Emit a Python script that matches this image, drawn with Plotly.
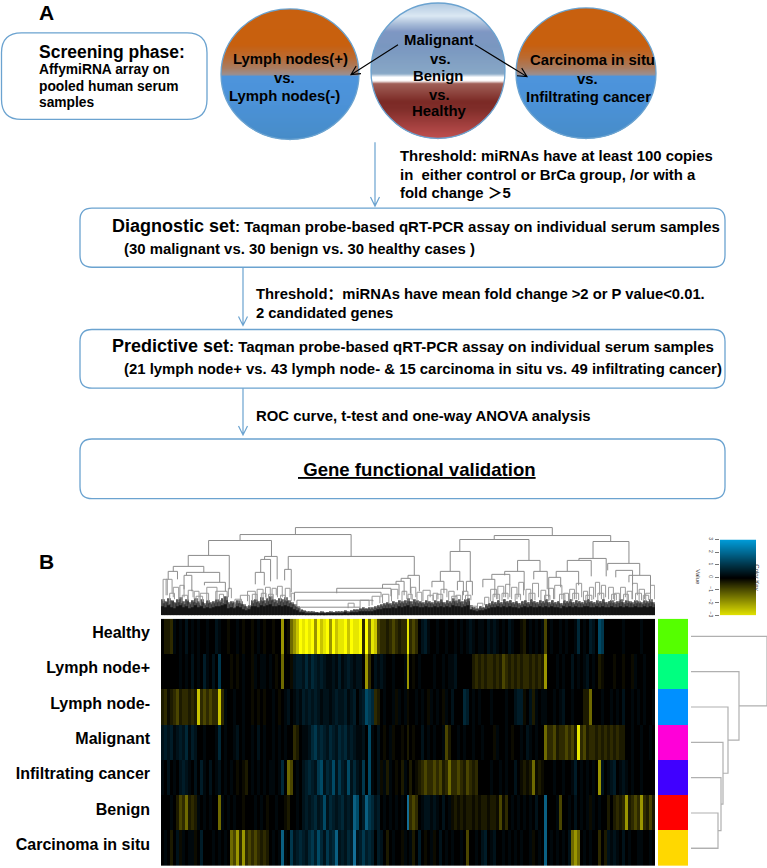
import plotly.graph_objects as go

W, H = 767, 868
FONT = "Liberation Sans, Noto Sans CJK SC, sans-serif"

ROW_LABELS = ["Healthy", "Lymph node+", "Lymph node-", "Malignant", "Infiltrating cancer", "Benign", "Carcinoma in situ"]
ROW_COLORS = ["#55ff00", "#00ff80", "#0090ff", "#ff00d8", "#4000ff", "#ff0000", "#ffd800"]
RIGHT_MERGES = [27, 30, 32, 37, 48, 76]

# digit = yellow level, letter = blue level, one character per heat map column
HEAT_ROWS = [
    ["0223a0a0b0", "a0a00a00ba", "00100a0100", "10a0100100", "6015679898", "9697896978", "8979889395", "8743323432",
     "3383430bca", "00a00a00a0", "a0aba0aa0b", "aba0a0ba00", "120a0a0a40", "a00a0a00ad", "0a0cb0fe00", "0000a00000", "a0000"],
    ["000000a0a0", "b0a0ca0b0e", "0001010a00", "1a0aa0a010", "5001bccbdb", "dcbcbaabac", "abcbabb063", "0baba00a00",
     "0a6010a000", "0a00a0aab0", "0000232323", "3232432323", "2332323260", "00a0a00b0a", "0ab0a02100", "01001001a0", "0a000"],
    ["2312342332", "3273434337", "3a00a00a00", "1010100a01", "0ab0abacbc", "bcbabbabcb", "bcabc0bcfe", "d320a00a1a",
     "0a100a0a01", "a0a01a0b00", "0dc0a0a000", "a0000a00bc", "c10b2a0aa0", "0a0ab00a00", "0225000a00", "a0a0b00a0a", "0a00a"],
    ["bcbcabcbda", "cb00a000ad", "0a00ab0a00", "a0b0a00a0a", "0a00320aab", "decdcbdcbd", "cdbcbaab0f", "a0b010a100",
     "1020100b0a", "0a00a4200a", "0a00a00a00", "01a00a0100", "a0ba0a0053", "3423343428", "3423323232", "3232200a00", "a00a0"],
    ["a0b0a0bcba", "0b0ca0b0ab", "0a0a010120", "a0a0a0aa0a", "d0540a0bcd", "cbefbdcfbe", "cbfbdbae0f", "a0b1a2a010",
     "2a02012343", "3434235334", "3243230000", "a00a0a00b0", "1212512100", "0a00a00ac0", "a0a0a06b0a", "bc0aba0a00", "a0000"],
    ["000a024352", "32a0a0a005", "a0a0a00100", "0a0a0100a0", "01200a0bcb", "cdbcfbdcbc", "dbcbgfacge", "dbc0a0a0a0",
     "a0h3430abb", "aba0b0a121", "2122121221", "2214130a0a", "0a0a0b00g0", "00a400a0b0", "a0a1a0a002", "0232362343", "63242"],
    ["0a020b1a0a", "a10c000a0a", "0a05463634", "3432320a0a", "ga0ebcdcbd", "ecfdbecdgb", "cbdchbcecd", "c0cb020a00",
     "1a0a20c010", "a10b0a0a00", "a0400a0bc0", "ab00a0a0a0", "a00a10a0g0", "a0a0a0b565", "0a0a00302b", "aba0b0a00a", "a00a0"],
]
YELLOW_RAMP = ["#000000", "#0c0b00", "#1c1a00", "#2e2a00", "#4a4500", "#6e6900", "#9a9500", "#c8c300", "#e6e600", "#ffff00"]
BLUE_RAMP = ["#000000", "#00080c", "#00121a", "#001c28", "#002838", "#00384e", "#004a66", "#0a5f82", "#146e96", "#1982af"]

FOREST_GREY = [16,14,17,15,13,16,18,14,16,13, 15,17,14,16,12,15,13,14,16,15, 17,19,13,14,13,15,14,11,9,10,
               15,16,14,18,15,17,19,16,15,17, 16,18,15,13,11,9,6,5,4,4, 4,3,3,4,3,3,4,3,4,4,
               4,5,4,5,6,6,7,8,7,8, 8,9,10,11,12,13,12,14,13,15, 14,15,17,14,16,15,14,13,15,14,
               13,15,14,16,13,15,14,17,15,16, 14,16,17,10,8,7,9,8,11,12, 14,13,15,13,16,14,15,13,14,12,
               14,15,13,16,14,13,15,14,16,13, 15,13,14,12,15,14,16,13,15,14, 13,15,16,14,13,15,14,16,13,14,
               15,13,14,16,13,15,14,13,15,14, 13,15,14,16,13]
FOREST_MID = [12,13,11,14,12,13,12,11,14,11, 13,12,12,13,10,12,11,12,13,13, 12,15,11,12,11,12,11,9,7,8,
              12,13,12,14,12,14,15,13,12,14, 13,14,12,11,9,7,5,4,3,3, 3,3,2,3,2,3,3,3,3,3,
              3,4,3,4,5,5,6,6,6,6, 6,7,8,9,10,11,10,11,11,12, 12,12,14,11,13,12,12,11,12,12,
              11,12,12,13,11,12,12,14,12,13, 11,13,14,8,6,6,7,7,9,10, 11,11,12,11,13,12,12,11,12,10,
              11,12,11,13,12,11,12,12,13,11, 12,11,12,10,12,12,13,11,12,12, 11,12,13,12,11,12,12,13,11,12,
              12,11,12,13,11,12,12,11,12,12, 11,12,12,13,11]
FOREST_DARK = [9,8,10,8,7,9,10,8,9,7, 8,10,8,9,7,8,7,8,9,9, 10,11,7,8,7,9,8,6,5,6,
               9,9,8,10,9,10,11,9,9,10, 9,10,9,8,6,5,3,3,2,2, 2,2,2,2,2,2,2,2,2,2,
               2,3,2,3,3,3,4,4,4,4, 4,5,6,6,7,7,7,8,7,9, 8,9,10,8,9,9,8,8,9,8,
               8,9,8,9,8,9,8,10,9,9, 8,9,10,6,5,4,5,5,6,7, 8,8,9,8,9,8,9,8,8,7,
               8,9,8,9,8,8,9,8,9,8, 9,8,8,7,9,8,9,8,9,8, 8,9,9,8,8,9,8,9,8,8,
               9,8,8,9,8,9,8,8,9,8, 8,9,8,9,8]

# left column, right column, height, left child height, right child height
TREE_LINKS = [
    (44.4,130.2,88,81,80), (25.9,63,81,75,59), (15.4,36.4,75,60,59), (8.6,22.3,60,49,26), (3.6,13.8,49,44,43),
    (1.9,5,44,36,36), (8,19.1,43,40,33), (7.2,9.8,40,26,24), (14,21,33,30,24), (34.1,38.3,59,56,36),
    (32.8,36.1,56,43,34), (31,34,43,31,30), (42,84.1,59,46,40), (40.8,43,46,35,23), (82,85.8,40,37,24),
    (79.7,82.8,37,34,22), (78,80.7,34,31,20), (73.5,79,31,27,20), (58.2,76.3,27,22,19), (44.1,73,23,15,18),
    (44.9,70.3,15,8,14), (46,66,8,4,7), (110.8,149.7,80,76,74), (99.3,122.4,76,64,55), (96.1,102.8,64,44,34),
    (92.8,99.3,44,34,34), (90,94,34,28,22), (98.5,100.5,34,25,20), (101.5,103.5,34,24,20), (118.6,126.1,55,44,44),
    (114.3,120.8,44,40,25), (124,128.5,44,36,26), (110,116,41,36,30), (107,111,36,28,18), (143.8,155.8,74,57,52),
    (139.1,148.2,57,55,39), (135.2,143.2,55,44,39), (131.5,139,44,38,30), (129,133,38,18,28), (148.7,159.4,52,45,40),
    (151.4,157,45,38,30), (155.8,163,40,33,22),
]
TREE_SMALL = [
    (0.2,1.6,36,14,20), (1.2,3.2,36,20,22), (3.6,5.4,28,18,16), (5.8,7.2,30,16,18), (8.6,10.2,25,16,18), (10.6,12.2,24,16,14),
    (12.6,15.4,22,10,14), (14.8,18.2,28,14,16), (17.8,21.6,24,15,18), (22,23,27,18,17), (24.2,26.4,16,8,12), (26,29,20,12,10),
    (28.4,31,24,14,16), (31.6,33.6,26,16,18), (34.4,36,28,18,18), (36.6,38,27,16,20), (38.4,40,29,18,18), (41,42.6,27,16,18),
    (43,44,22,14,14), (62,64,12,7,8), (66,69,15,8,9), (70,72.6,19,10,12), (73.5,75.6,21,12,12), (76.5,78.6,26,14,16),
    (80,81.6,24,14,16), (83,84.6,28,16,18), (85,86.6,23,14,14), (87,89.4,25,14,18), (90.4,92,22,14,16), (93,95,26,16,18),
    (95.6,97.4,24,15,16), (98,99.6,20,14,14), (100.2,102,24,15,16), (103,105,9,6,7), (105.2,107,12,7,8), (107.6,109,18,10,12),
    (109.6,111.6,26,14,16), (112,114,29,16,18), (114.6,116,31,18,18), (116.6,118.4,28,16,16), (119,120.6,33,18,20), (121.4,123,26,15,16),
    (123.6,125.6,32,16,18), (126.4,128,25,15,15), (129,130.6,27,14,16), (131,133.4,30,16,16), (134,135.6,22,14,14), (136,137.6,26,14,16),
    (138.2,140,32,16,18), (140.6,142,24,14,16), (142.6,144,28,16,16), (144.6,146,33,18,20), (146.6,148,30,16,18), (149,150.6,28,16,16),
    (151,152.6,22,14,14), (153,154.6,28,16,18), (155.2,156.8,24,14,16), (157,158.6,32,16,20), (159.2,161,26,14,16), (161.4,163,22,14,14), (163,164.4,30,14,16),
    (2.4,4,22,14,16), (6.6,8.4,20,14,15), (11.2,13.4,19,13,14), (19,20.4,21,14,15), (30,31.6,21,14,15), (33,34.6,22,15,16), (35.4,37,21,15,16),
    (39.4,41,20,14,15), (82,83.4,21,14,15), (88.6,90.4,20,14,15), (91.6,93.6,21,14,15), (96.6,98.4,19,14,15), (101.2,103,20,15,15),
    (110.4,112.6,21,14,15), (113.4,115.4,22,14,16), (117.8,119.6,21,14,15), (122.4,124.4,22,14,15), (127.6,129.4,20,14,15), (132.6,134.4,21,14,15),
    (137,139,22,14,15), (141.4,143.4,20,14,15), (145.4,147.4,22,14,16), (150,151.6,21,14,15), (154,155.6,21,14,15), (158,160,22,14,15), (160.6,162.4,20,14,15),
]

KEY_VALUES = [-3, -2, -1, 0, 1, 2, 3]

OUTER_BOXES = [(1.5, 31, 207, 118, 20), (80, 207, 725, 266.5, 12), (80, 329, 725, 388, 12), (80, 439, 725, 499, 12)]
ORANGE_BLUE = [(6, "#c8600f"), (43, "#c8600f"), (55, "#bb6a30"), (66, "#aa7c60"), (73, "#9c8f90"), (74.5, "#4e94dc"), (100, "#4c92d8"), (138, "#478cc8")]
ELLIPSES = [
    (290, 72.5, 69, 65.5, ORANGE_BLUE),
    (438, 69, 67, 68, [(1, "#b0c8e0"), (14, "#dbe8f3"), (22, "#a8bcd8"), (30, "#7f97c3"), (45, "#7a97c0"), (72, "#88a8c6"), (75.5, "#ffffff"), (79, "#ffffff"),
                       (82, "#a06058"), (100, "#7c2a26"), (108, "#802e2a"), (137, "#c05050")]),
    (586, 71.5, 70, 65.5, ORANGE_BLUE),
]
ARROWS = [
    (398, 43, 351, 73, "#000000", 1.1), (475, 43, 527, 75, "#000000", 1.1),
    (375, 141, 375, 205, "#6ba3d0", 1.2), (243, 267, 243, 325, "#6ba3d0", 1.2), (243, 388, 243, 435, "#6ba3d0", 1.2),
]
TEXTS = [
    ("A", 39, 11, 21, "left"), ("B", 39, 562, 21, "left"),
    ("Screening phase:", 39, 50, 17.5, "left"), ("AffymiRNA array on", 39, 68, 13.8, "left"),
    ("pooled human serum", 39, 85, 13.8, "left"), ("samples", 39, 101, 13.8, "left"),
    ("Lymph nodes(+)", 290, 57, 14.9, "center"), ("vs.", 284, 76, 14.9, "center"), ("Lymph nodes(-)", 284.5, 94, 14.9, "center"),
    ("Malignant", 439, 38, 14.9, "center"), ("vs.", 440, 57, 14.9, "center"), ("Benign", 438, 74, 14.9, "center"),
    ("vs.", 439, 93, 14.9, "center"), ("Healthy", 439, 110, 14.9, "center"),
    ("Carcinoma in situ", 592, 58, 14.9, "center"), ("vs.", 587.5, 77, 14.9, "center"), ("Infiltrating cancer", 588, 95, 14.9, "center"),
    ("Threshold: miRNAs have at least 100 copies", 400, 155, 14.9, "left"),
    ("in  either control or BrCa group, /or with a", 400, 174, 14.9, "left"),
    ("fold change \uff1e5", 400, 192, 14.9, "left"),
    ("<span style='font-size:18px'>Diagnostic set</span>: Taqman probe-based qRT-PCR assay on individual serum samples", 112, 225, 15, "left"),
    ("(30 malignant vs. 30 benign vs. 30 healthy cases )", 124, 248, 14.9, "left"),
    ("Threshold\uff1amiRNAs have mean fold change &gt;2 or P value&lt;0.01.", 256, 293, 14.8, "left"),
    ("2 candidated genes", 256, 312, 14.8, "left"),
    ("<span style='font-size:18px'>Predictive set</span>: Taqman probe-based qRT-PCR assay on individual serum samples", 112, 346, 15, "left"),
    ("(21 lymph node+ vs. 43 lymph node- &amp; 15 carcinoma in situ vs. 49 infiltrating cancer)", 124, 369, 14.9, "left"),
    ("ROC curve, t-test and one-way ANOVA analysis", 256, 416, 14.9, "left"),
    ("<u>\u00a0Gene functional validation</u>", 298, 470, 18.6, "left"),
]


def X(p):
    return p / W


def Y(p):
    return 1 - p / H


def level(ch):
    return -int(ch) if ch.isdigit() else ord(ch) - ord("a") + 1


def mix(c1, c2, t):
    a = [int(c1[i:i + 2], 16) for i in (1, 3, 5)]
    b = [int(c2[i:i + 2], 16) for i in (1, 3, 5)]
    return "rgb(%d,%d,%d)" % tuple(round(p + (q - p) * t) for p, q in zip(a, b))


def band_color(stops, y):
    if y <= stops[0][0]:
        return stops[0][1]
    for (y1, c1), (y2, c2) in zip(stops, stops[1:]):
        if y <= y2:
            return mix(c1, c2, (y - y1) / (y2 - y1))
    return stops[-1][1]


heat_z = []
for i, groups in enumerate(HEAT_ROWS):
    row = "".join(groups)
    assert len(row) == 165, (i, len(row), [g for g in groups[:-1] if len(g) != 10])
    heat_z.append([level(c) for c in row])
columns = list(range(165))
half_columns = [c + 0.5 for c in columns]
assert len(FOREST_GREY) == len(FOREST_MID) == len(FOREST_DARK) == 165, (len(FOREST_GREY), len(FOREST_MID), len(FOREST_DARK))
heat_scale = [[(9 - i) / 18, YELLOW_RAMP[i]] for i in range(9, 0, -1)] + [[(9 + i) / 18, BLUE_RAMP[i]] for i in range(0, 10)]

shapes = []
for cx, cy, rx, ry, stops in ELLIPSES:
    y = cy - ry
    while y < cy + ry:
        mid = y + 0.5
        half = rx * max(0, 1 - ((mid - cy) / ry) ** 2) ** 0.5
        half2 = rx * max(0, 1 - ((mid + 1 - cy) / ry) ** 2) ** 0.5
        path = (f"M {X(cx - half)} {Y(y)} L {X(cx + half)} {Y(y)} L {X(cx + half2)} {Y(y + 2)} L {X(cx - half2)} {Y(y + 2)} Z")
        shapes.append(dict(type="path", xref="paper", yref="paper", path=path,
                           fillcolor=band_color(stops, mid), line=dict(width=0), layer="below"))
        y += 1
    shapes.append(dict(type="circle", xref="paper", yref="paper", x0=X(cx - rx), x1=X(cx + rx), y0=Y(cy - ry), y1=Y(cy + ry),
                       line=dict(color="#6ba3d0", width=1.3)))

for x0, y0, x1, y1, r in OUTER_BOXES:
    path = (f"M {X(x0 + r)} {Y(y0)} L {X(x1 - r)} {Y(y0)} Q {X(x1)} {Y(y0)} {X(x1)} {Y(y0 + r)} "
            f"L {X(x1)} {Y(y1 - r)} Q {X(x1)} {Y(y1)} {X(x1 - r)} {Y(y1)} "
            f"L {X(x0 + r)} {Y(y1)} Q {X(x0)} {Y(y1)} {X(x0)} {Y(y1 - r)} "
            f"L {X(x0)} {Y(y0 + r)} Q {X(x0)} {Y(y0)} {X(x0 + r)} {Y(y0)} Z")
    shapes.append(dict(type="path", xref="paper", yref="paper", path=path, line=dict(color="#6ba3d0", width=1.3)))

for x0, y0, x1, y1, color, lw in ARROWS:
    dx, dy = x1 - x0, y1 - y0
    n = (dx * dx + dy * dy) ** 0.5
    ux, uy = dx / n, dy / n
    size, wing = 9, 4.5
    ax, ay = x1 - ux * size - uy * wing, y1 - uy * size + ux * wing
    bx, by = x1 - ux * size + uy * wing, y1 - uy * size - ux * wing
    path = (f"M {X(x0)} {Y(y0)} L {X(x1)} {Y(y1)} M {X(ax)} {Y(ay)} L {X(x1)} {Y(y1)} L {X(bx)} {Y(by)}")
    shapes.append(dict(type="path", xref="paper", yref="paper", path=path, line=dict(color=color, width=lw)))

annotations = []
for text, x, y, size, anchor in TEXTS:
    annotations.append(dict(text=f"<b>{text}</b>", x=X(x), y=Y(y), xref="paper", yref="paper", xanchor=anchor, yanchor="middle",
                            align=anchor, showarrow=False, borderpad=0, borderwidth=0,
                            font=dict(family=FONT, size=size, color="#000000")))
annotations.append(dict(text="Value", x=X(703), y=Y(578), xref="paper", yref="paper", textangle=90, showarrow=False,
                        font=dict(family=FONT, size=6, color="#333333")))
annotations.append(dict(text="Color Key", x=X(762), y=Y(578), xref="paper", yref="paper", textangle=90, showarrow=False,
                        font=dict(family=FONT, size=6, color="#333333")))

fig = go.Figure()
fig.add_trace(go.Bar(x=half_columns, y=FOREST_GREY, width=0.25, marker=dict(color="#777777", line=dict(width=0)), xaxis="x2", yaxis="y2"))
fig.add_trace(go.Bar(x=columns, y=FOREST_GREY, width=0.4, marker=dict(color="#555555", line=dict(width=0)), xaxis="x2", yaxis="y2"))

for links, color in ((TREE_SMALL, "#999999"), (TREE_LINKS, "#8c8c8c")):
    xs, ys = [], []
    for cl, cr, h, hl, hr in links:
        xs += [cl, cl, cr, cr, None]
        ys += [hl, h, h, hr, None]
    fig.add_trace(go.Scatter(x=xs, y=ys, mode="lines", line=dict(color=color, width=1), xaxis="x2", yaxis="y2"))

fig.add_trace(go.Bar(x=half_columns, y=FOREST_MID, width=0.45, marker=dict(color="#3a3a3a", line=dict(width=0)), xaxis="x2", yaxis="y2"))
fig.add_trace(go.Bar(x=columns, y=FOREST_MID, width=0.3, marker=dict(color="#4a4a4a", line=dict(width=0)), xaxis="x2", yaxis="y2"))
fig.add_trace(go.Bar(x=columns, y=FOREST_DARK, width=1.0, marker=dict(color="#141414", line=dict(width=0)), xaxis="x2", yaxis="y2"))

fig.add_trace(go.Heatmap(z=heat_z, x=columns, y=list(range(7)), zmin=-9, zmax=9, showscale=False,
                         colorscale=heat_scale, xaxis="x3", yaxis="y3"))

fig.add_trace(go.Heatmap(z=[[i] for i in range(7)], y=list(range(7)), zmin=0, zmax=6, showscale=False,
                         colorscale=[[i / 6, c] for i, c in enumerate(ROW_COLORS)], xaxis="x4", yaxis="y4"))

pos = 6.0
xs, ys = [0, RIGHT_MERGES[0], None], [6, 6, None]
merge_h = 0
for leaf, h in zip(range(5, -1, -1), RIGHT_MERGES):
    xs += [0, h, h, merge_h, None]
    ys += [leaf, leaf, pos, pos, None]
    merge_h = h
    pos = (leaf + pos) / 2
fig.add_trace(go.Scatter(x=xs, y=ys, mode="lines", line=dict(color="#b0b0b0", width=1.2), xaxis="x5", yaxis="y5"))

fig.add_trace(go.Heatmap(z=[[v, v] for v in KEY_VALUES], x=[0, 1], y=KEY_VALUES, zmin=-3, zmax=3, zsmooth="best", showscale=False,
                         colorscale=[[0, "#e8e800"], [0.5, "#000000"], [1, "#009bd8"]], xaxis="x6", yaxis="y6"))


def box_x(a, b):
    return [a / W, b / W]


def box_y(a, b):
    return [1 - b / H, 1 - a / H]


hidden = dict(visible=False, fixedrange=True)
layout = dict(
    width=W, height=H, margin=dict(l=0, r=0, t=0, b=0, pad=0), paper_bgcolor="#ffffff", plot_bgcolor="rgba(0,0,0,0)",
    showlegend=False, barmode="overlay", shapes=shapes, annotations=annotations, hovermode=False,
    xaxis2=dict(hidden, domain=box_x(161, 655), range=[-0.5, 164.5], anchor="y2"),
    yaxis2=dict(hidden, domain=box_y(520, 616), range=[0, 96], anchor="x2"),
    xaxis3=dict(hidden, domain=box_x(161, 655), range=[-0.5, 164.5], anchor="y3"),
    yaxis3=dict(domain=box_y(619.5, 868), range=[6.5, -0.5], anchor="x3", showgrid=False, zeroline=False, showline=False,
                tickmode="array", tickvals=[i - 0.11 for i in range(7)], ticktext=[f"<b>{t}</b>" for t in ROW_LABELS],
                ticks="", ticklabelstandoff=10, tickfont=dict(family=FONT, size=16, color="#000000"), fixedrange=True),
    xaxis4=dict(hidden, domain=box_x(658, 688), anchor="y4"),
    yaxis4=dict(hidden, domain=box_y(619.5, 868), range=[6.5, -0.5], anchor="x4"),
    xaxis5=dict(hidden, domain=box_x(691, 767), range=[0, 76], anchor="y5"),
    yaxis5=dict(hidden, domain=box_y(619.5, 868), range=[6.5, -0.5], anchor="x5"),
    xaxis6=dict(hidden, domain=box_x(720, 756), range=[0, 1], anchor="y6"),
    yaxis6=dict(domain=box_y(540, 616), range=[-3, 3], anchor="x6", showgrid=False, zeroline=False, showline=False,
                tickmode="array", tickvals=KEY_VALUES, ticks="outside", ticklen=4, tickcolor="#777777", tickwidth=1,
                tickangle=90, tickfont=dict(family=FONT, size=5, color="#444444"), fixedrange=True),
)
fig.update_layout(**layout)
fig.write_html("out.html", config=dict(displayModeBar=False), post_script="document.body.style.margin='0';")
